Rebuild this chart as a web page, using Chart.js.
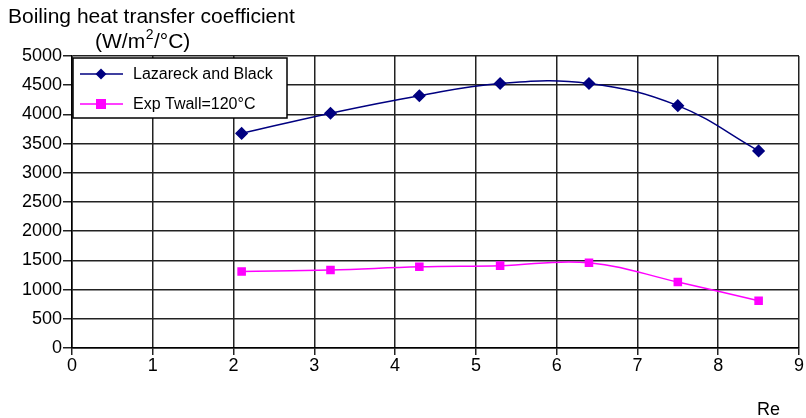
<!DOCTYPE html>
<html>
<head>
<meta charset="utf-8">
<script src="https://cdn.jsdelivr.net/npm/chart.js@4"></script>
<style>
html,body{margin:0;padding:0;background:#fff;}
#wrap{width:806px;height:418px;position:relative;}
</style>
</head>
<body>
<div id="wrap"><canvas id="c" width="806" height="418"></canvas></div>
<script>
const reValues = [2.1, 3.2, 4.3, 5.3, 6.4, 7.5, 8.5];
const lazareckBlack = [3675, 4020, 4320, 4530, 4530, 4150, 3375];
const expTwall120 = [1310, 1335, 1390, 1410, 1460, 1130, 810];
const seriesNames = ['Lazareck and Black', 'Exp Twall=120\u00B0C'];
const yTitleLine1 = 'Boiling heat transfer coefficient';
const yTitleLine2Parts = ['(W/m', '2', '/\u00B0C)'];
const xTitle = 'Re';

const FONT = '"Liberation Sans", Arial, Helvetica, sans-serif';

const overlay = {
  id: 'overlay',
  afterDraw(chart) {
    const ctx = chart.ctx;
    ctx.save();
    ctx.fillStyle = '#000';
    ctx.textBaseline = 'alphabetic';
    ctx.textAlign = 'left';
    ctx.font = '21px ' + FONT;
    ctx.fillText(yTitleLine1, 8, 23);
    let x = 95;
    ctx.fillText(yTitleLine2Parts[0], x, 48);
    x += ctx.measureText(yTitleLine2Parts[0]).width;
    ctx.font = '14px ' + FONT;
    ctx.fillText(yTitleLine2Parts[1], x + 0.5, 39);
    x += ctx.measureText(yTitleLine2Parts[1]).width + 1;
    ctx.font = '21px ' + FONT;
    ctx.fillText(yTitleLine2Parts[2], x, 48);

    ctx.font = '18px ' + FONT;
    ctx.fillText(xTitle, 757, 415);

    // legend
    const lx = 73, ly = 58, lw = 214, lh = 60;
    ctx.fillStyle = '#fff';
    ctx.fillRect(lx, ly, lw, lh);
    ctx.strokeStyle = '#000';
    ctx.lineWidth = 1.5;
    ctx.strokeRect(lx, ly, lw, lh);
    ctx.textBaseline = 'middle';
    chart.data.datasets.forEach((ds, i) => {
      const y = 74 + i * 30;
      ctx.strokeStyle = ds.borderColor;
      ctx.lineWidth = 1.5;
      ctx.beginPath();
      ctx.moveTo(80, y);
      ctx.lineTo(123, y);
      ctx.stroke();
      ctx.fillStyle = ds.pointBackgroundColor;
      if (ds.pointStyle === 'rectRot') {
        ctx.beginPath();
        ctx.moveTo(101, y - 5.5);
        ctx.lineTo(106.5, y);
        ctx.lineTo(101, y + 5.5);
        ctx.lineTo(95.5, y);
        ctx.closePath();
        ctx.fill();
      } else {
        ctx.fillRect(96, y - 5, 10, 10);
      }
      ctx.fillStyle = '#000';
      ctx.font = '16px ' + FONT;
      ctx.textAlign = 'left';
      ctx.fillText(ds.label, 133, y + 1);
    });
    ctx.restore();
  }
};

new Chart(document.getElementById('c'), {
  type: 'line',
  data: {
    datasets: [
      {
        label: seriesNames[0],
        data: reValues.map((x, i) => ({x: x, y: lazareckBlack[i]})),
        borderColor: '#000080',
        backgroundColor: '#000080',
        pointBackgroundColor: '#000080',
        pointBorderColor: '#000080',
        pointStyle: 'rectRot',
        pointRadius: 5.5,
        borderWidth: 1.5,
        tension: 0.4,
        fill: false
      },
      {
        label: seriesNames[1],
        data: reValues.map((x, i) => ({x: x, y: expTwall120[i]})),
        borderColor: '#FF00FF',
        backgroundColor: '#FF00FF',
        pointBackgroundColor: '#FF00FF',
        pointBorderColor: '#FF00FF',
        pointStyle: 'rect',
        pointRadius: 5,
        borderWidth: 1.5,
        tension: 0.4,
        fill: false
      }
    ]
  },
  options: {
    responsive: false,
    animation: false,
    devicePixelRatio: 1,
    layout: { padding: { top: 56, right: 6, left: 0, bottom: 0 } },
    plugins: {
      legend: { display: false },
      tooltip: { enabled: false },
      title: { display: false }
    },
    scales: {
      x: {
        type: 'linear',
        min: 0, max: 9,
        afterFit(s) { s.height = 70; },
        ticks: { stepSize: 1, color: '#000', font: { size: 18, family: FONT }, padding: 0, maxRotation: 0,
                 callback: v => String(v) },
        grid: { color: '#222', lineWidth: 1.5, tickLength: 7, drawTicks: true },
        border: { color: '#000', width: 1.5 }
      },
      y: {
        min: 0, max: 5000,
        afterFit(s) { s.width = 72; },
        ticks: { stepSize: 500, color: '#000', font: { size: 18, family: FONT }, padding: 1,
                 callback: v => String(v) },
        grid: { color: '#222', lineWidth: 1.5, tickLength: 9, drawTicks: true },
        border: { color: '#000', width: 1.5 }
      }
    }
  },
  plugins: [overlay]
});
</script>
</body>
</html>
